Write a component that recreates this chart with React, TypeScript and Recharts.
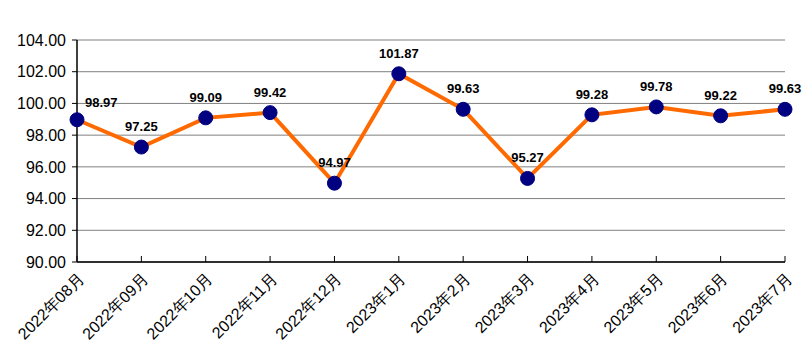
import React from "react";
import { LineChart, Line, XAxis, YAxis, CartesianGrid, LabelList } from "recharts";

const categories = [
  "2022年08月", "2022年09月", "2022年10月", "2022年11月", "2022年12月",
  "2023年1月", "2023年2月", "2023年3月", "2023年4月", "2023年5月", "2023年6月", "2023年7月",
];
const values = [98.97, 97.25, 99.09, 99.42, 94.97, 101.87, 99.63, 95.27, 99.28, 99.78, 99.22, 99.63];
const yTicks = [90, 92, 94, 96, 98, 100, 102, 104];

const data = categories.map((c, i) => ({ name: c, value: values[i] }));
const FONT = "'Liberation Sans', Arial, sans-serif";

const XTick = (props: any) => {
  const { x, y, payload } = props;
  const ax = x + 8;
  const ay = y + 18;
  return (
    <g>
      <line x1={x} y1={y} x2={x} y2={y - 6} stroke="#000" strokeWidth={1} />
      <text
        x={ax}
        y={ay}
        textAnchor="end"
        fontSize={16}
        fontFamily={FONT}
        fill="#000"
        transform={`rotate(-45, ${ax}, ${ay})`}
      >
        {payload.value}
      </text>
    </g>
  );
};

const ValueLabel = (props: any) => {
  const { x, y, value, index } = props;
  const first = index === 0;
  return (
    <text
      x={first ? x + 8 : x}
      y={first ? y - 13 : y - 16}
      textAnchor={first ? "start" : "middle"}
      fontSize={13}
      fontWeight="bold"
      fontFamily={FONT}
      fill="#000"
    >
      {Number(value).toFixed(2)}
    </text>
  );
};

export default function App() {
  return (
    <div style={{ position: "absolute", left: 0, top: 0, width: 809, height: 359, background: "#fff" }}>
      <LineChart width={809} height={359} data={data} margin={{ top: 40, right: 24, bottom: 0, left: 0 }}>
        <CartesianGrid vertical={false} stroke="#808080" strokeWidth={1} />
        <XAxis
          dataKey="name"
          interval={0}
          height={97}
          tickLine={false}
          tickSize={0}
          tickMargin={0}
          axisLine={{ stroke: "#000", strokeWidth: 1.5 }}
          tick={<XTick />}
        />
        <YAxis
          domain={[90, 104]}
          ticks={yTicks}
          width={77}
          interval={0}
          tickSize={5}
          tickMargin={6}
          tickFormatter={(v: number) => v.toFixed(2)}
          axisLine={{ stroke: "#000", strokeWidth: 1.5 }}
          tickLine={{ stroke: "#000" }}
          tick={{ fontSize: 16, fontFamily: FONT, fill: "#000" }}
        />
        <Line
          type="linear"
          dataKey="value"
          stroke="#FF6A00"
          strokeWidth={4}
          dot={{ r: 7, fill: "#000080", stroke: "#000080", strokeWidth: 1 }}
          activeDot={false}
          isAnimationActive={false}
        >
          <LabelList dataKey="value" content={<ValueLabel />} />
        </Line>
      </LineChart>
    </div>
  );
}
